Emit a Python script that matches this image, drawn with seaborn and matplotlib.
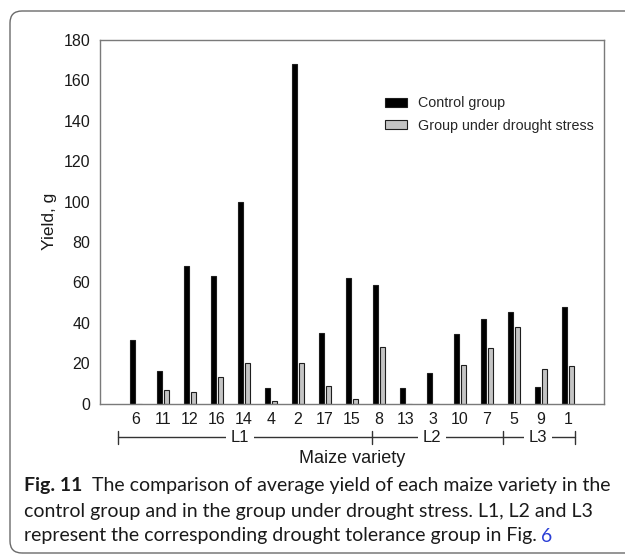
import matplotlib
matplotlib.use("Agg")
import matplotlib.pyplot as plt
import matplotlib.transforms as mtransforms
from matplotlib.patches import FancyBboxPatch
import numpy as np
import pandas as pd
import seaborn as sns

# Maize varieties in plotting order (grouped by drought tolerance)
varieties = ["6", "11", "12", "16", "14", "4", "2", "17", "15",
             "8", "13", "3", "10", "7", "5", "9", "1"]
control_yield = [31.5, 16, 68, 63, 100, 7.5, 168, 35, 62,
                 58.5, 7.5, 15, 34.5, 42, 45.5, 8, 48]
drought_yield = [0, 6.5, 5.5, 13, 20, 1, 20, 8.5, 2,
                 28, 0, 0, 19, 27.5, 38, 17, 18.5]
groups = ["Control group", "Group under drought stress"]
yticks = list(range(0, 181, 20))

# Drought tolerance groups: label and (first, last) variety index
tolerance = [("L1", 0, 8), ("L2", 9, 13), ("L3", 14, 16)]

df = pd.DataFrame({
    "variety": varieties * 2,
    "group": [groups[0]] * len(varieties) + [groups[1]] * len(varieties),
    "yield": control_yield + drought_yield,
})

sns.set_theme(style="white")
plt.rcParams["font.family"] = ["Liberation Sans", "DejaVu Sans"]

W, H, DPI = 625, 557, 100
fig = plt.figure(figsize=(W / DPI, H / DPI), dpi=DPI)

# outer rounded frame around figure + caption
frame = FancyBboxPatch((10, 4), 700, 542, boxstyle="round,pad=0,rounding_size=12",
                       transform=mtransforms.IdentityTransform(),
                       facecolor="none", edgecolor="#6a6a6a", linewidth=1.0)
fig.patches.append(frame)

ax_l, ax_r, ax_t, ax_b = 100, 604, 40, 403.5
ax = fig.add_axes([ax_l / W, 1 - ax_b / H, (ax_r - ax_l) / W, (ax_b - ax_t) / H])

sns.barplot(data=df, x="variety", y="yield", hue="group", order=varieties,
            hue_order=groups, palette=["#000000", "#c4c4c4"],
            width=0.56, gap=0.3, edgecolor="#1e1e1e", linewidth=0.8,
            errorbar=None, ax=ax)

ax.set_xlim(-1.333, 17.333)
ax.set_ylim(0, 180)
ax.set_yticks(yticks)
ax.tick_params(axis="both", length=0, labelsize=11.5, colors="#1a1a1a")
ax.tick_params(axis="y", pad=7)
ax.tick_params(axis="x", pad=6)
for s in ax.spines.values():
    s.set_color("#7a7a7a")
    s.set_linewidth(1.0)

ax.set_ylabel("Yield, g", fontsize=12.5, color="#1a1a1a")
ax.yaxis.set_label_coords(-0.085, 0.5)
ax.set_xlabel("Maize variety", fontsize=13, color="#1a1a1a")
ax.xaxis.set_label_coords(0.5, -0.128)

handles, labels = ax.get_legend_handles_labels()
ax.legend(handles, labels, loc="upper left", bbox_to_anchor=(0.555, 0.861),
          frameon=False, fontsize=10.3, handlelength=1.48, handleheight=0.62,
          handletextpad=0.78, labelspacing=0.6, borderaxespad=0)

# tolerance group brackets under the tick labels
trans = mtransforms.blended_transform_factory(ax.transData, ax.transAxes)
yb, th = -0.093, 0.018
bounds = [-0.667, 8.74, 13.6, 16.26]
ax.plot([bounds[0], bounds[-1]], [yb, yb], transform=trans, color="#333333",
        lw=1.0, clip_on=False)
for b in bounds:
    ax.plot([b, b], [yb - th, yb + th], transform=trans, color="#333333",
            lw=1.0, clip_on=False)
label_x = {"L1": 3.85, "L2": 10.96, "L3": 14.9}
for name, i0, i1 in tolerance:
    ax.text(label_x[name], yb, name, transform=trans, ha="center", va="center",
            fontsize=12, color="#1a1a1a",
            bbox=dict(facecolor="white", edgecolor="none", pad=3.5))

# caption
cap_font = ["Lato", "DejaVu Sans"]
cap_size = 14.0
x0 = 24 / W
fig.canvas.draw()
renderer = fig.canvas.get_renderer()
t0 = fig.text(x0, 1 - 486 / H, "Fig. 11", fontsize=cap_size, fontweight="bold",
              family=cap_font, color="#1a1a1a", va="center")
bb0 = t0.get_window_extent(renderer=renderer)
fig.text((bb0.x1 + 10) / W, 1 - 486 / H,
         "The comparison of average yield of each maize variety in the",
         fontsize=cap_size, family=cap_font, color="#1a1a1a", va="center")
fig.text(x0, 1 - 511 / H,
         "control group and in the group under drought stress. L1, L2 and L3",
         fontsize=cap_size, family=cap_font, color="#1a1a1a", va="center")
t3 = fig.text(x0, 1 - 536 / H,
              "represent the corresponding drought tolerance group in Fig.",
              fontsize=cap_size, family=cap_font, color="#1a1a1a", va="center")
bb = t3.get_window_extent(renderer=renderer)
fig.text((bb.x1 + 4) / W, 1 - 536 / H, "6", fontsize=cap_size, family=cap_font,
         color="#2b3fd6", va="center")

fig.savefig("out.png", dpi=DPI)
